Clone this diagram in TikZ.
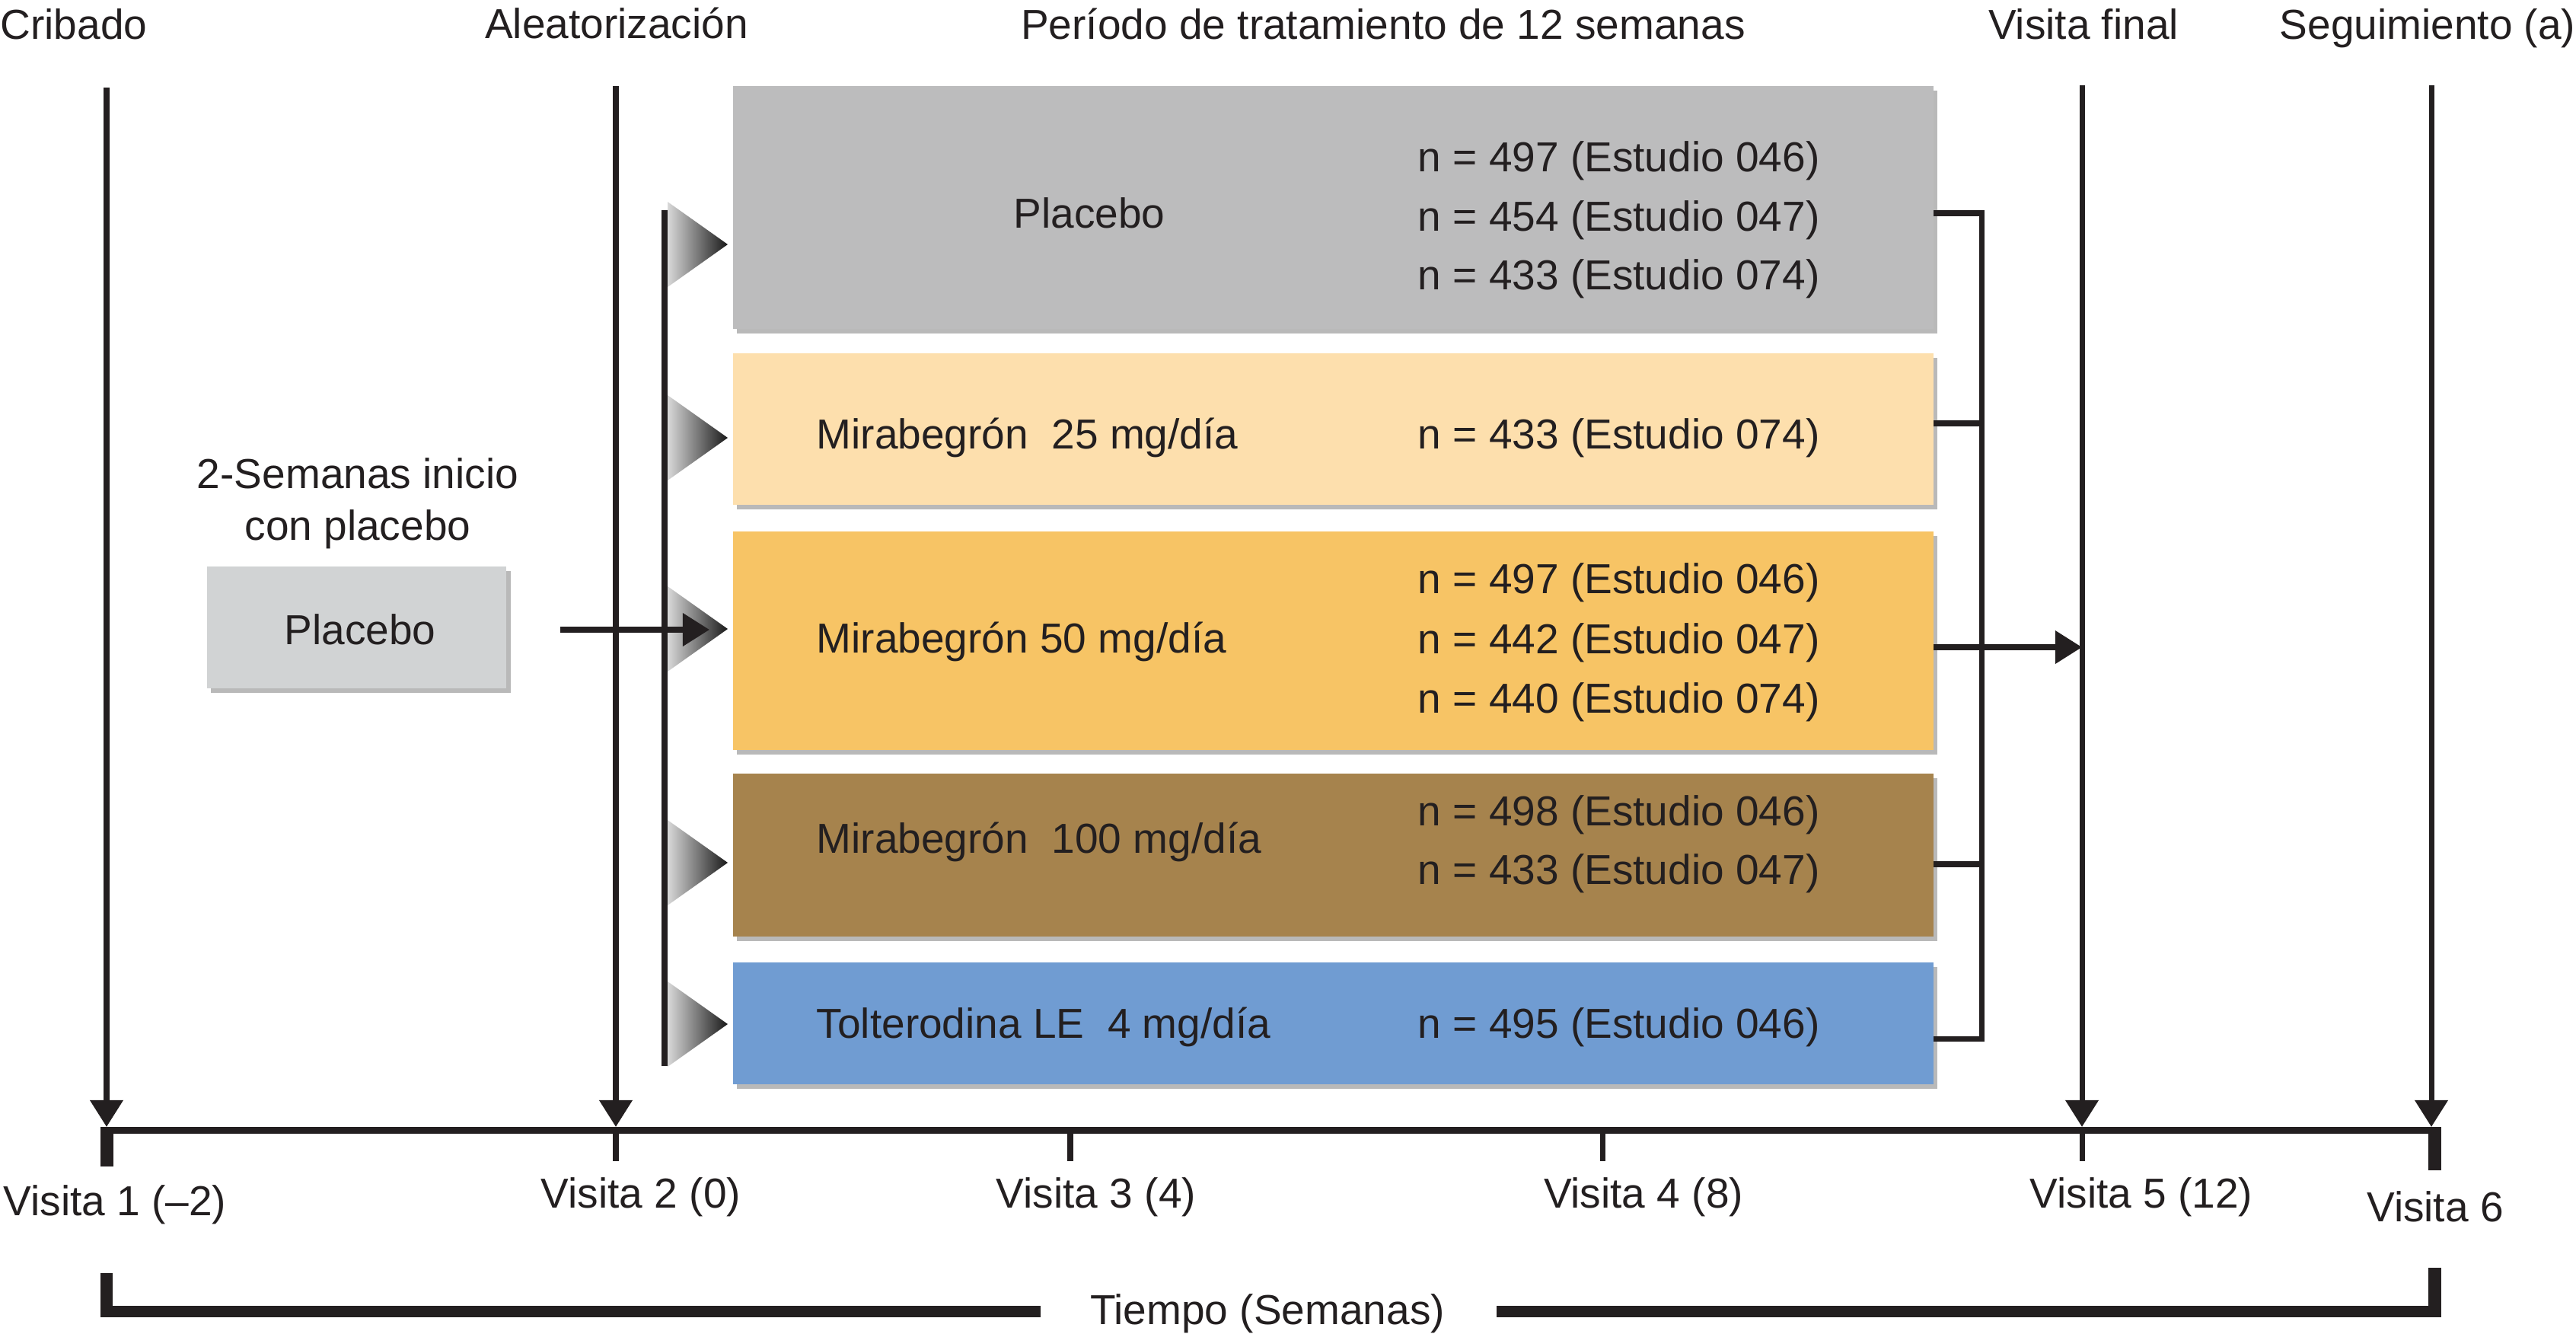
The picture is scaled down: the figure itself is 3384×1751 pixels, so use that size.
\documentclass[tikz,border=0pt]{standalone}
\usepackage{fontspec}
\setmainfont{Liberation Sans}
\usetikzlibrary{arrows.meta,shadows,calc}
\definecolor{ink}{HTML}{231F20}
\definecolor{cgray}{HTML}{BCBCBD}
\definecolor{clight}{HTML}{FDDFAD}
\definecolor{corange}{HTML}{F7C465}
\definecolor{cbrown}{HTML}{A6834D}
\definecolor{cblue}{HTML}{709CD2}
\definecolor{csmall}{HTML}{D1D3D4}
\begin{document}
\begin{tikzpicture}[x=0.01cm,y=-0.01cm,
  lbl/.style={font=\fontsize{15.65pt}{22pt}\selectfont, text=ink, inner sep=0pt, text height=11.2pt, text depth=0pt},
  ln/.style={draw=ink, line width=2pt},
  arr/.style={draw=ink, line width=2pt, -{Triangle[length=10pt,width=12pt]}},
  box/.style={draw=none, inner sep=0pt, anchor=north west, minimum width=15.76cm,
     drop shadow={shadow xshift=1.6pt, shadow yshift=-1.8pt, opacity=0.55}},
  tri/.style={left color=gray!30, right color=black!90, draw=none}
]
\useasboundingbox (0,0) rectangle (3384,1751);

% headers
\node[lbl, anchor=west] (cribado) at (0,32) {Cribado};
\node[lbl] (aleat) at (810,31) {Aleatorización};
\node[lbl] (periodo) at (1817,32) {Período de tratamiento de 12 semanas};
\node[lbl] (vfinal) at (2737,32) {Visita final};
\node[lbl, anchor=east] (seguim) at (3384,32) {Seguimiento (a)};

% treatment boxes
\node[box, fill=cgray, minimum height=3.19cm] (bP) at (962,112) {};
\node[box, fill=clight, minimum height=1.99cm] (b25) at (962,463) {};
\node[box, fill=corange, minimum height=2.87cm] (b50) at (962,697) {};
\node[box, fill=cbrown, minimum height=2.14cm] (b100) at (962,1015) {};
\node[box, fill=cblue, minimum height=1.60cm] (bT) at (962,1263) {};

% run-in placebo box
\node[box, fill=csmall, minimum width=3.93cm, minimum height=1.60cm] (bRun) at (271,743) {};
\node[lbl] (tRun) at (473,827) {Placebo};
\node[lbl] (runA) at (470,622) {2-Semanas inicio};
\node[lbl] (runB) at (470,690) {con placebo};

% box texts
\node[lbl] (tP) at (1431,280) {Placebo};
\node[lbl, anchor=west] (nP1) at (1862,206) {n = 497 (Estudio 046)};
\node[lbl, anchor=west] (nP2) at (1862,284) {n = 454 (Estudio 047)};
\node[lbl, anchor=west] (nP3) at (1862,361) {n = 433 (Estudio 074)};

\node[lbl, anchor=west] (t25) at (1072,570) {Mirabegrón\ \ 25 mg/día};
\node[lbl, anchor=west] (n25) at (1862,570) {n = 433 (Estudio 074)};

\node[lbl, anchor=west] (t50) at (1072,838) {Mirabegrón 50 mg/día};
\node[lbl, anchor=west] (n50a) at (1862,760) {n = 497 (Estudio 046)};
\node[lbl, anchor=west] (n50b) at (1862,839) {n = 442 (Estudio 047)};
\node[lbl, anchor=west] (n50c) at (1862,917) {n = 440 (Estudio 074)};

\node[lbl, anchor=west] (t100) at (1072,1101) {Mirabegrón\ \ 100 mg/día};
\node[lbl, anchor=west] (n100a) at (1862,1065) {n = 498 (Estudio 046)};
\node[lbl, anchor=west] (n100b) at (1862,1142) {n = 433 (Estudio 047)};

\node[lbl, anchor=west] (tT) at (1072,1344) {Tolterodina LE\ \ 4 mg/día};
\node[lbl, anchor=west] (nT) at (1862,1344) {n = 495 (Estudio 046)};

% randomisation triangles
\foreach \ty/\nm in {321/trP,575/tr25,826/tr50,1133/tr100,1345/trT}{
  \shade[tri] (877,\ty-56) -- (956,\ty) -- (877,\ty+56) -- cycle;
}
\coordinate (rbTop) at (873,276);
\coordinate (rbBot) at (873,1400);
\draw[ln] (rbTop) -- (rbBot);

% run-in arrow
\coordinate (runS) at (736,827);
\coordinate (runE) at (932,827);
\draw[arr] (runS) -- (runE);

% right bracket
\draw[ln] ($(bP.north east)+(0,168)$) -| ($(bT.north east)+(63,101)$) -- ($(bT.north east)+(0,101)$);
\draw[ln] ($(b25.north east)+(0,93)$) -- ($(b25.north east)+(63,93)$);
\draw[ln] ($(b100.north east)+(0,120)$) -- ($(b100.north east)+(63,120)$);
\coordinate (vfArr) at (2735,850);
\draw[arr] ($(b50.north east)+(0,153)$) -- (vfArr);

% vertical visit arrows
\coordinate (a1t) at (140,115);  \coordinate (a1b) at (140,1480);
\coordinate (a2t) at (809,113);  \coordinate (a2b) at (809,1480);
\coordinate (a5t) at (2735,112); \coordinate (a5b) at (2735,1480);
\coordinate (a6t) at (3194,112); \coordinate (a6b) at (3194,1480);
\draw[arr] (a1t) -- (a1b);
\draw[arr] (a2t) -- (a2b);
\draw[arr] (a5t) -- (a5b);
\draw[arr] (a6t) -- (a6b);

% timeline
\fill[ink] (132,1480) rectangle (3207,1489);
\fill[ink] (132,1480) rectangle (149,1532);
\fill[ink] (3190,1480) rectangle (3207,1537);
\foreach \tx in {809,1406,2105,2735}{
  \draw[ln] (\tx,1489) -- (\tx,1525);
}

% visit labels
\node[lbl] (v1) at (151,1577) {Visita 1 (–2)};
\node[lbl] (v2) at (842,1567) {Visita 2 (0)};
\node[lbl] (v3) at (1440,1567) {Visita 3 (4)};
\node[lbl] (v4) at (2159,1567) {Visita 4 (8)};
\node[lbl] (v5) at (2813,1567) {Visita 5 (12)};
\node[lbl] (v6) at (3199,1585) {Visita 6};

% time bracket
\node[lbl] (tiempo) at (1665,1720) {Tiempo (Semanas)};
\fill[ink] (132,1672) rectangle (148,1730);
\fill[ink] (132,1715) rectangle (1367,1730);
\fill[ink] (3190,1665) rectangle (3207,1730);
\fill[ink] (1966,1715) rectangle (3207,1730);
\end{tikzpicture}
\end{document}
